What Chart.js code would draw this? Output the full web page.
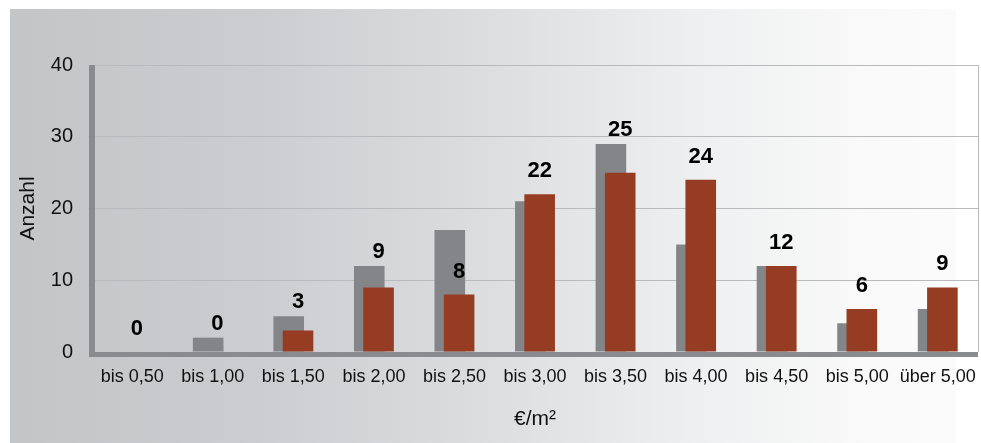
<!DOCTYPE html>
<html>
<head>
<meta charset="utf-8">
<script src="https://cdn.jsdelivr.net/npm/chart.js@4/dist/chart.umd.min.js"></script>
<style>
  html, body { margin: 0; padding: 0; background: #ffffff; }
  #wrap { position: relative; width: 981px; height: 443px; overflow: hidden; }
  #bg { position: absolute; left: 10px; top: 9px; width: 946px; height: 434px;
        background: linear-gradient(to right, #c4c5c7 0%, #cbcccf 25%, #dcdddf 50%, #eeeff0 72%, #f9f9f9 90%, #fbfbfb 100%); }
  canvas { position: absolute; left: 0; top: 0; }
</style>
</head>
<body>
<div id="wrap">
  <div id="bg"></div>
  <canvas id="c" width="981" height="443"></canvas>
</div>
<script>
// ---- data ----
const categories = ['bis 0,50', 'bis 1,00', 'bis 1,50', 'bis 2,00', 'bis 2,50', 'bis 3,00', 'bis 3,50', 'bis 4,00', 'bis 4,50', 'bis 5,00', 'über 5,00'];
const seriesGray = [0, 2, 5, 12, 17, 21, 29, 15, 12, 4, 6];
const seriesRed  = [0, 0, 3, 9, 8, 22, 25, 24, 12, 6, 9];
const yTicks = [0, 10, 20, 30, 40];
const yTitle = 'Anzahl';
const xTitle = '€/m²';

// ---- styles ----
const GRAY = '#848589';
const RED = '#963c22';
const AXIS = '#8a8b8f';
const GRID = '#b9babd';
const FONT = "'Liberation Sans', Arial, sans-serif";
const RED_INDEX = 1;

const overlayPlugin = {
  id: 'overlay',
  beforeDatasetDraw(chart, args) {
    if (args.index === RED_INDEX) return false;
  },
  beforeDatasetsDraw(chart) {
    const {ctx, chartArea: a} = chart;
    ctx.save();
    ctx.strokeStyle = GRID;
    ctx.lineWidth = 1;
    ctx.beginPath();
    ctx.moveTo(a.right + 0.5, a.top);
    ctx.lineTo(a.right + 0.5, a.bottom);
    ctx.stroke();
    ctx.restore();
  },
  afterDatasetsDraw(chart) {
    const {ctx, chartArea: a} = chart;
    // red bars on top of gray bars
    chart.getDatasetMeta(RED_INDEX).controller.draw();
    // axis lines
    ctx.save();
    ctx.fillStyle = AXIS;
    ctx.fillRect(a.left - 3, a.bottom, a.right - a.left + 3, 5);
    ctx.fillRect(a.left - 3, a.top, 6, a.bottom - a.top + 5);
    // data labels
    const red = chart.getDatasetMeta(RED_INDEX).data;
    const gray = chart.getDatasetMeta(0).data;
    ctx.fillStyle = '#000';
    ctx.font = "bold 22px " + FONT;
    ctx.textAlign = 'center';
    ctx.textBaseline = 'middle';
    red.forEach((el, i) => {
      let y = el.y - 23;
      const diff = seriesGray[i] - seriesRed[i];
      if (diff > 0 && diff <= 4) {
        y = Math.min(y, gray[i].y - 14);
      }
      ctx.fillText(String(seriesRed[i]), el.x, y);
    });
    ctx.restore();
  }
};

new Chart(document.getElementById('c'), {
  type: 'bar',
  data: {
    labels: categories,
    datasets: [
      { label: 'gray', data: seriesGray, backgroundColor: GRAY, borderWidth: 0,
        categoryPercentage: 0.231, barPercentage: 3.29 },
      { label: 'red', data: seriesRed, backgroundColor: RED, borderWidth: 0,
        categoryPercentage: 0.231, barPercentage: 3.29 }
    ]
  },
  options: {
    responsive: false,
    animation: false,
    devicePixelRatio: 1,
    layout: { padding: { top: 65, right: 3, left: 0, bottom: 0 } },
    plugins: { legend: { display: false }, tooltip: { enabled: false } },
    scales: {
      x: {
        grid: { display: false, drawTicks: false },
        border: { display: false },
        ticks: { color: '#111', font: { family: FONT, size: 18 }, padding: 14, maxRotation: 0, autoSkip: false },
        title: { display: true, text: xTitle, color: '#111', font: { family: FONT, size: 21 }, padding: { top: 0, bottom: 11 } },
        afterFit(s) { s.height = 91; s.paddingLeft = 0; s.paddingRight = 0; }
      },
      y: {
        min: 0, max: 40,
        afterBuildTicks(s) { s.ticks = yTicks.map(v => ({ value: v })); },
        grid: { color: (c) => c.tick && c.tick.value === 0 ? 'rgba(0,0,0,0)' : GRID, lineWidth: 1, drawTicks: false },
        border: { display: false },
        ticks: { color: '#111', font: { family: FONT, size: 20 }, padding: 19 },
        title: { display: true, text: yTitle, color: '#111', font: { family: FONT, size: 21 }, padding: { top: 16, bottom: 0 } },
        afterFit(s) { s.width = 92; s.paddingTop = 0; s.paddingBottom = 0; }
      }
    }
  },
  plugins: [overlayPlugin]
});
</script>
</body>
</html>
